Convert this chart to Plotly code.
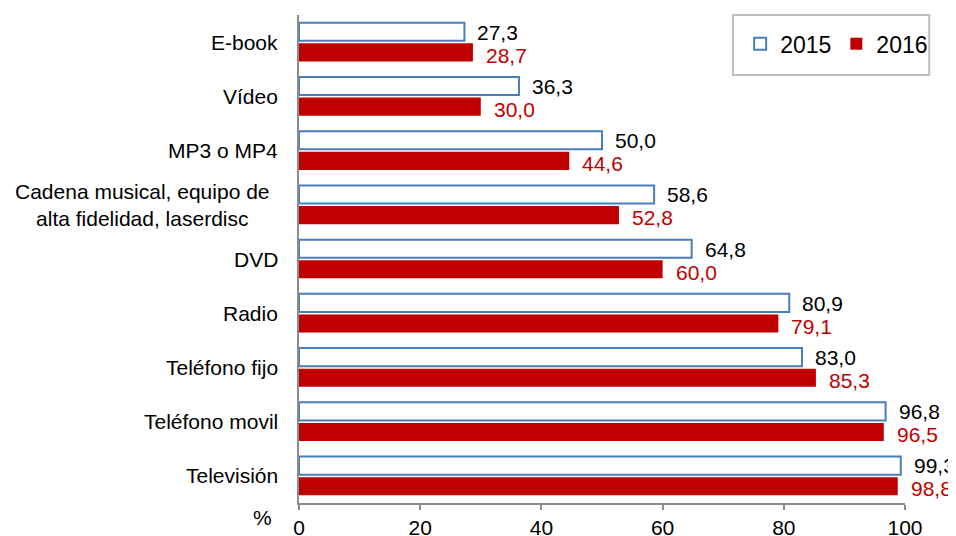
import plotly.graph_objects as go

categories = ["E-book", "Vídeo", "MP3 o MP4",
              "Cadena musical, equipo de<br>alta fidelidad, laserdisc",
              "DVD", "Radio", "Teléfono fijo", "Teléfono movil", "Televisión"]
values_2015 = [27.3, 36.3, 50.0, 58.6, 64.8, 80.9, 83.0, 96.8, 99.3]
values_2016 = [28.7, 30.0, 44.6, 52.8, 60.0, 79.1, 85.3, 96.5, 98.8]
series_names = ["2015", "2016"]
x_ticks = [0, 20, 40, 60, 80, 100]

FONT = "Liberation Sans, Arial, sans-serif"
RED = "#C00000"
BLUE = "#4A7EBB"
GREY = "#8C8C8C"
FS = 21

def fmt(v):
    return f"{v:.1f}".replace(".", ",")

fig = go.Figure()
fig.add_trace(go.Bar(
    y=categories, x=values_2015, orientation="h", name=series_names[0],
    marker=dict(color="white", line=dict(color=BLUE, width=2)),
))
fig.add_trace(go.Bar(
    y=categories, x=values_2016, orientation="h", name=series_names[1],
    marker=dict(color=RED, line=dict(color=RED, width=0)),
))

annotations = []
for c, v in zip(categories, values_2015):
    annotations.append(dict(x=v, y=c, xref="x", yref="y", text=fmt(v),
                            showarrow=False, xanchor="left", yanchor="middle",
                            xshift=12, yshift=10, borderpad=0,
                            font=dict(family=FONT, size=FS, color="black")))
for c, v in zip(categories, values_2016):
    annotations.append(dict(x=v, y=c, xref="x", yref="y", text=fmt(v),
                            showarrow=False, xanchor="left", yanchor="middle",
                            xshift=12, yshift=-13, borderpad=0,
                            font=dict(family=FONT, size=FS, color=RED)))
for c in categories:
    wrapped = "<br>" in c
    annotations.append(dict(x=0, y=c, xref="paper", yref="y", text=c,
                            showarrow=False, xanchor="right", yanchor="middle",
                            align="center", xshift=-27 if wrapped else -19,
                            font=dict(family=FONT, size=FS, color="black")))
annotations.append(dict(x=0, y=0, xref="paper", yref="paper", text="%",
                        showarrow=False, xanchor="right", yanchor="top",
                        xshift=-25, yshift=-1,
                        font=dict(family=FONT, size=FS, color="black")))

# page body adds an 8px margin, so the figure is 8px smaller than the window
fig.update_layout(
    width=948, height=528,
    margin=dict(l=291, r=51, t=7, b=33, autoexpand=False),
    paper_bgcolor="white", plot_bgcolor="white",
    barmode="group", bargap=0.24, bargroupgap=0.12,
    font=dict(family=FONT, size=FS, color="black"),
    showlegend=True,
    legend=dict(orientation="h", x=0.728, y=0.985, xanchor="left", yanchor="top",
                font=dict(family=FONT, size=23, color="black"),
                bgcolor="rgba(0,0,0,0)", borderwidth=0, itemwidth=30,
                traceorder="normal"),
    annotations=annotations,
    shapes=[dict(type="rect", xref="paper", yref="paper",
                 x0=0.716, x1=1.04, y0=0.877, y1=1.0,
                 line=dict(color="#BFBFBF", width=2), fillcolor="rgba(0,0,0,0)")],
    xaxis=dict(range=[0, 100], tickvals=x_ticks, showgrid=False, zeroline=False,
               showline=True, linecolor=GREY, linewidth=2,
               ticks="outside", ticklen=5, tickcolor=GREY, tickwidth=2,
               tickfont=dict(family=FONT, size=FS, color="black")),
    yaxis=dict(categoryorder="array", categoryarray=categories, autorange="reversed",
               showticklabels=False, showgrid=False, zeroline=False,
               showline=True, linecolor=GREY, linewidth=2, ticks=""),
)

fig.write_html("out.html")
